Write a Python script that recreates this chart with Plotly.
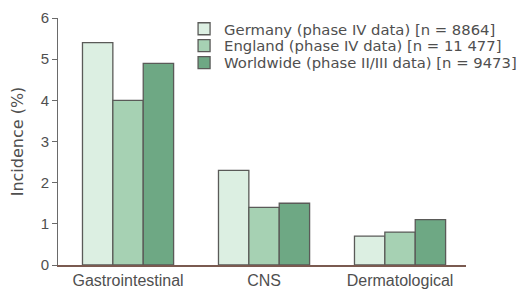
import plotly.graph_objects as go

categories = ["Gastrointestinal", "CNS", "Dermatological"]
series_names = [
    "Germany (phase IV data) [n = 8864]",
    "England (phase IV data) [n = 11 477]",
    "Worldwide (phase II/III data) [n = 9473]",
]
germany = [5.4, 2.3, 0.7]
england = [4.0, 1.4, 0.8]
worldwide = [4.9, 1.5, 1.1]
colors = ["#dcefe2", "#a6d1b3", "#6ea884"]
y_ticks = [0, 1, 2, 3, 4, 5, 6]

legend_ids = ["legend", "legend2", "legend3"]
legend_y = [0.955, 0.887, 0.818]

fig = go.Figure()
for name, vals, c, lid in zip(series_names, [germany, england, worldwide], colors, legend_ids):
    fig.add_trace(go.Bar(
        x=categories, y=vals, name=name, legend=lid,
        marker=dict(color=c, line=dict(color="#5a5a58", width=1.3)),
    ))

font_family = "Liberation Sans, Arial, sans-serif"
wide_family = "DejaVu Sans, sans-serif"

def legend_cfg(y):
    return dict(
        x=0.309, y=y, xanchor="left", yanchor="middle",
        font=dict(size=14.8, color="#4f4f4f", family=wide_family),
        bgcolor="rgba(0,0,0,0)", itemwidth=30,
    )

# page has an 8px body margin, so the figure is 8px smaller in each direction
fig.update_layout(
    width=520, height=284,
    margin=dict(l=50, r=62, t=10, b=27, autoexpand=False),
    paper_bgcolor="white", plot_bgcolor="white",
    barmode="group", bargap=0.33, bargroupgap=0,
    font=dict(family=font_family, color="#4f4f4f", size=14),
    showlegend=True,
    legend=legend_cfg(legend_y[0]),
    legend2=legend_cfg(legend_y[1]),
    legend3=legend_cfg(legend_y[2]),
    xaxis=dict(
        range=[-0.515, 2.485], showgrid=False, showline=True, automargin=False,
        linecolor="#7a5a50", linewidth=1.5, ticks="",
        tickfont=dict(size=16, color="#4f4f4f"),
    ),
    yaxis=dict(
        range=[0, 6], tickvals=y_ticks, showgrid=False, showline=True,
        automargin=False,
        linecolor="#6a6a6a", linewidth=1, ticks="outside", ticklen=5,
        tickcolor="#6a6a6a", zeroline=False,
        tickfont=dict(size=15, color="#4f4f4f"),
        title=dict(text="Incidence (%)", font=dict(size=16, color="#4f4f4f", family=wide_family), standoff=14),
    ),
)
fig.write_html("out.html", config={"displayModeBar": False})
